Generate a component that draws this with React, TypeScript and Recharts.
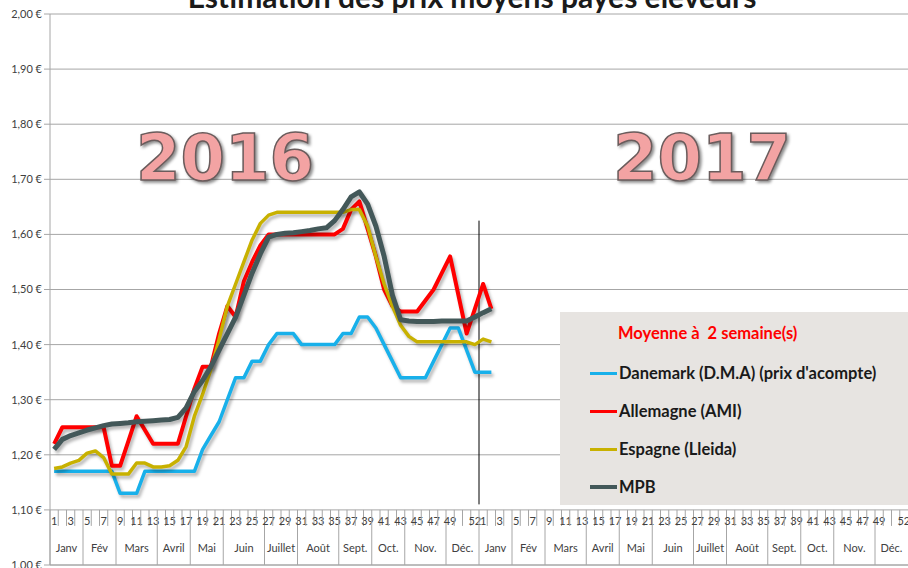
import React from "react";
import { LineChart, Line, XAxis, YAxis, CartesianGrid, Legend, ReferenceLine } from "recharts";

// weekly prices, 2016 w1..w52 then 2017 w1..w2
const danemark = [
  1.17, 1.17, 1.17, 1.17, 1.17, 1.17, 1.17, 1.17, 1.13, 1.13, 1.13, 1.17, 1.17,
  1.17, 1.17, 1.17, 1.17, 1.17, 1.21, 1.235, 1.26, 1.3, 1.34, 1.34, 1.37, 1.37,
  1.4, 1.42, 1.42, 1.42, 1.4, 1.4, 1.4, 1.4, 1.4, 1.42, 1.42, 1.45, 1.45, 1.43,
  1.4, 1.37, 1.34, 1.34, 1.34, 1.34, 1.37, 1.4, 1.43, 1.43, 1.39, 1.35,
  1.35, 1.35,
];
const allemagne = [
  1.22, 1.25, 1.25, 1.25, 1.25, 1.25, 1.25, 1.18, 1.18, 1.225, 1.27, 1.245, 1.22,
  1.22, 1.22, 1.22, 1.27, 1.32, 1.36, 1.36, 1.42, 1.47, 1.45, 1.515, 1.55, 1.58,
  1.6, 1.6, 1.6, 1.6, 1.6, 1.6, 1.6, 1.6, 1.6, 1.61, 1.645, 1.66, 1.61, 1.56,
  1.5, 1.47, 1.46, 1.46, 1.46, 1.48, 1.5, 1.53, 1.56, 1.49, 1.42, 1.465,
  1.51, 1.465,
];
const espagne = [
  1.175, 1.178, 1.185, 1.19, 1.203, 1.207, 1.195, 1.165, 1.165, 1.165, 1.185, 1.185, 1.178,
  1.178, 1.18, 1.19, 1.215, 1.27, 1.31, 1.355, 1.41, 1.47, 1.51, 1.55, 1.59, 1.62,
  1.635, 1.64, 1.64, 1.64, 1.64, 1.64, 1.64, 1.64, 1.64, 1.64, 1.645, 1.645, 1.615, 1.56,
  1.51, 1.47, 1.435, 1.415, 1.405, 1.405, 1.405, 1.405, 1.405, 1.405, 1.405, 1.4,
  1.41, 1.405,
];
const mpb = [
  1.21, 1.228, 1.235, 1.24, 1.245, 1.249, 1.253, 1.256, 1.257, 1.258, 1.26, 1.261, 1.262,
  1.263, 1.264, 1.268, 1.285, 1.315, 1.335, 1.36, 1.39, 1.42, 1.45, 1.49, 1.53, 1.565,
  1.595, 1.6, 1.602, 1.603, 1.605, 1.607, 1.61, 1.612, 1.625, 1.645, 1.668, 1.677, 1.655, 1.615,
  1.56, 1.49, 1.445, 1.443, 1.442, 1.442, 1.442, 1.443, 1.443, 1.443, 1.443, 1.45,
  1.458, 1.465,
];

const seriesNames = ["Danemark (D.M.A) (prix d'acompte)", "Allemagne (AMI)", "Espagne (Lleida)", "MPB"];
const years = [2016, 2017];
const months = ["Janv", "Fév", "Mars", "Avril", "Mai", "Juin", "Juillet", "Août", "Sept.", "Oct.", "Nov.", "Déc."];
const monthWeeks = [4, 4, 5, 4, 4, 5, 4, 5, 4, 4, 5, 4];
const weekLabels = [1, 3, 5, 7, 9, 11, 13, 15, 17, 19, 21, 23, 25, 27, 29, 31, 33, 35, 37, 39, 41, 43, 45, 47, 49, 52];
const yTicks = [1.0, 1.1, 1.2, 1.3, 1.4, 1.5, 1.6, 1.7, 1.8, 1.9, 2.0];

const W = 908;
const H = 568;
const TOP = 14;
const LEFT = 50;
const AXIS_H = 3;
const PLOT_W = W - LEFT;
const PLOT_H = H - TOP - AXIS_H;
const N = years.length * 52;
const BW = PLOT_W / N;

const rows = years.flatMap((year, yi) =>
  Array.from({ length: 52 }, (_, i) => {
    const k = yi * 52 + i;
    return {
      key: `${year}-${i + 1}`,
      week: i + 1,
      danemark: danemark[k] ?? null,
      allemagne: allemagne[k] ?? null,
      espagne: espagne[k] ?? null,
      mpb: mpb[k] ?? null,
    };
  })
);

// week number -> month index when that week opens a month
const monthStart = new Map<number, number>();
monthWeeks.reduce((w, len, i) => {
  monthStart.set(w, i);
  return w + len;
}, 1);

const FONT = "Lato, 'Open Sans', sans-serif";

function CategoryTick(props: any) {
  const { x, y, index } = props;
  const row = rows[index];
  if (!row) return null;
  const top = y - PLOT_H / 10;
  const left = x - BW / 2;
  const mi = monthStart.get(row.week);
  return (
    <g>
      <line x1={left} x2={left} y1={top} y2={mi !== undefined ? y : top + 16} stroke="#a6a6a6" />
      {weekLabels.includes(row.week) && (
        <text x={x} y={top + 15} textAnchor="middle" fontSize={11} fill="#404040" fontFamily={FONT}>
          {row.week}
        </text>
      )}
      {mi !== undefined && (
        <text x={left + (monthWeeks[mi] * BW) / 2} y={top + 42} textAnchor="middle" fontSize={11} fill="#404040" fontFamily={FONT}>
          {months[mi]}
        </text>
      )}
    </g>
  );
}

function LegendBox(props: any) {
  const items = [...(props.payload || [])].sort(
    (a: any, b: any) => seriesNames.indexOf(a.value) - seriesNames.indexOf(b.value)
  );
  return (
    <div style={{ position: "relative", width: 348, height: 193, background: "#e7e4e1", fontFamily: FONT }}>
      <div style={{ position: "absolute", left: 58, top: 11, color: "#ff0000", fontWeight: 700, fontSize: 16.5, whiteSpace: "pre" }}>
        Moyenne à  2 semaine(s)
      </div>
      {items.map((it: any, i: number) => (
        <div key={it.value} style={{ position: "absolute", left: 30, top: 49 + i * 38, height: 24, display: "flex", alignItems: "center" }}>
          <div style={{ width: 27, height: i === 3 ? 4 : 3, background: it.color, marginRight: 2 }} />
          <span style={{ fontWeight: 700, fontSize: 16.5, color: "#1a1a1a", whiteSpace: "nowrap" }}>{it.value}</span>
        </div>
      ))}
    </div>
  );
}

export default function App() {
  return (
    <div style={{ position: "absolute", left: 0, top: 0, width: W, height: H, overflow: "hidden", background: "#fff" }}>
      <style>{`.recharts-line-curve { filter: drop-shadow(2px 3px 1.5px rgba(0,0,0,0.28)); stroke-linejoin: round; }`}</style>
      <LineChart width={W} height={H} data={rows} margin={{ top: TOP, right: 0, bottom: 0, left: 0 }}>
        <CartesianGrid vertical={false} stroke="#a6a6a6" />
        <XAxis
          dataKey="key"
          scale="band"
          height={AXIS_H}
          interval={0}
          tickLine={false}
          tickSize={0}
          tickMargin={0}
          axisLine={{ stroke: "#a6a6a6" }}
          tick={<CategoryTick />}
        />
        <YAxis
          width={LEFT}
          domain={[1, 2]}
          ticks={yTicks}
          interval={0}
          tickSize={6}
          tickMargin={2}
          axisLine={{ stroke: "#a6a6a6" }}
          tickLine={{ stroke: "#a6a6a6" }}
          tick={{ fontSize: 11, fill: "#404040", fontFamily: FONT }}
          tickFormatter={(v: number) => `${v.toFixed(2).replace(".", ",")} €`}
        />
        <ReferenceLine
          segment={[{ x: "2017-1", y: 1.625 }, { x: "2017-1", y: 1.11 }]}
          position="start"
          stroke="#000"
          strokeWidth={1}
          ifOverflow="visible"
        />
        <Line dataKey="danemark" name={seriesNames[0]} stroke="#18b0ea" strokeWidth={3.5} dot={false} isAnimationActive={false} />
        <Line dataKey="allemagne" name={seriesNames[1]} stroke="#ff0000" strokeWidth={4} dot={false} isAnimationActive={false} />
        <Line dataKey="espagne" name={seriesNames[2]} stroke="#c8b100" strokeWidth={3.5} dot={false} isAnimationActive={false} />
        <Line dataKey="mpb" name={seriesNames[3]} stroke="#435859" strokeWidth={5} dot={false} isAnimationActive={false} />
        <Legend
          layout="vertical"
          align="center"
          verticalAlign="middle"
          content={<LegendBox />}
          wrapperStyle={{ left: 560, top: 312, width: 348, height: 193 }}
        />
      </LineChart>
      <svg width={W} height={H} style={{ position: "absolute", left: 0, top: 0, pointerEvents: "none" }}>
        <text x={472} y={8} textAnchor="middle" fontFamily={FONT} fontWeight={700} fontSize={30} fill="#1a1a1a">
          Estimation des prix moyens payés éleveurs
        </text>
        {[["2016", 225], ["2017", 702]].map(([label, cx]) => (
          <text
            key={label}
            x={cx}
            y={180}
            textAnchor="middle"
            fontFamily="'DejaVu Sans', sans-serif"
            fontWeight={700}
            fontSize={64}
            fill="#f3a3a3"
            stroke="#6a5c5c"
            strokeWidth={1.5}
            style={{ filter: "drop-shadow(2px 2px 1.5px rgba(0,0,0,0.45))" }}
          >
            {label}
          </text>
        ))}
      </svg>
    </div>
  );
}
